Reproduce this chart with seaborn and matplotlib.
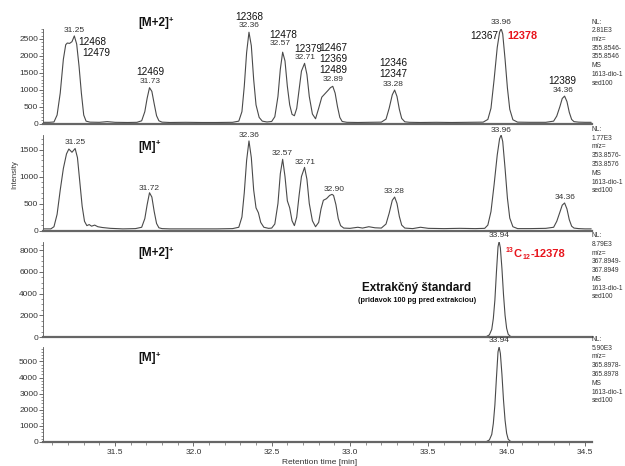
import matplotlib
matplotlib.use("Agg")
import matplotlib.pyplot as plt
from matplotlib.ticker import MultipleLocator, FormatStrFormatter
import seaborn as sns
import pandas as pd

# ---------------- data ----------------
# Panel 1: native [M+2]+ trace
rt_p1 = [31.04, 31.08, 31.11, 31.13, 31.15, 31.17, 31.185, 31.195, 31.21, 31.225, 31.24, 31.255,
         31.27, 31.285, 31.30, 31.315, 31.34, 31.40, 31.45, 31.50, 31.58, 31.64, 31.67, 31.69,
         31.705, 31.72, 31.735, 31.75, 31.765, 31.78, 31.80, 31.85, 31.95, 32.05, 32.15, 32.25,
         32.29, 32.31, 32.325, 32.34, 32.355, 32.37, 32.385, 32.40, 32.42, 32.44, 32.47, 32.50,
         32.52, 32.54, 32.555, 32.57, 32.585, 32.60, 32.615, 32.63, 32.645, 32.66, 32.675, 32.69,
         32.71, 32.725, 32.74, 32.76, 32.78, 32.80, 32.82, 32.84, 32.86, 32.875, 32.89, 32.905,
         32.92, 32.935, 32.95, 32.98, 33.05, 33.12, 33.20, 33.23, 33.25, 33.27, 33.285, 33.30,
         33.315, 33.33, 33.35, 33.38, 33.45, 33.55, 33.65, 33.75, 33.85, 33.88, 33.90, 33.92,
         33.94, 33.955, 33.965, 33.975, 33.99, 34.005, 34.02, 34.04, 34.07, 34.15, 34.25, 34.30,
         34.32, 34.34, 34.355, 34.37, 34.385, 34.40, 34.415, 34.43, 34.46, 34.50, 34.54]
int_p1 = [35, 35, 45, 250, 900, 1900, 2330, 2380, 2370, 2420, 2590, 2350,
          1700, 900, 250, 70, 40, 35, 55, 35, 30, 35, 80, 350,
          750, 1060, 950, 580, 230, 80, 40, 30, 35, 30, 30, 35,
          70, 350, 1100, 2100, 2700, 2300, 1300, 550, 180, 70, 45, 60,
          200, 800, 1600, 2110, 1850, 1100, 550, 270, 230, 450, 1000, 1550,
          1780, 1450, 800, 280, 140, 450, 780, 880, 980, 1060, 1100, 900,
          500, 180, 60, 35, 30, 35, 40, 130, 450, 850, 990, 800,
          420, 150, 50, 35, 30, 35, 30, 35, 40, 120, 450, 1300,
          2250, 2700, 2800, 2650, 1900, 1050, 420, 110, 40, 35, 35, 70,
          220, 500, 740, 810, 650, 330, 120, 55, 40, 35, 35]

# Panel 2: native [M]+ trace
rt_p2 = [31.04, 31.09, 31.11, 31.13, 31.15, 31.17, 31.19, 31.205, 31.225, 31.245, 31.26, 31.275,
         31.29, 31.305, 31.32, 31.335, 31.35, 31.37, 31.39, 31.42, 31.47, 31.55, 31.63, 31.67,
         31.69, 31.705, 31.72, 31.735, 31.75, 31.765, 31.78, 31.80, 31.85, 31.95, 32.05, 32.15,
         32.25, 32.29, 32.31, 32.325, 32.34, 32.355, 32.37, 32.385, 32.40, 32.415, 32.43, 32.45,
         32.48, 32.50, 32.52, 32.54, 32.555, 32.57, 32.585, 32.60, 32.615, 32.63, 32.645, 32.66,
         32.675, 32.69, 32.71, 32.725, 32.74, 32.76, 32.78, 32.80, 32.815, 32.83, 32.85, 32.87,
         32.885, 32.895, 32.91, 32.925, 32.94, 32.96, 33.00, 33.05, 33.08, 33.12, 33.16, 33.20,
         33.23, 33.25, 33.27, 33.285, 33.30, 33.315, 33.33, 33.35, 33.40, 33.45, 33.50, 33.60,
         33.70, 33.80, 33.86, 33.88, 33.90, 33.92, 33.94, 33.955, 33.965, 33.975, 33.99, 34.005,
         34.02, 34.04, 34.07, 34.15, 34.25, 34.30, 34.32, 34.34, 34.355, 34.37, 34.385, 34.40,
         34.415, 34.43, 34.46, 34.50, 34.54]
int_p2 = [30, 30, 70, 300, 750, 1150, 1420, 1510, 1450, 1520, 1350, 900,
          450, 170, 90, 110, 80, 100, 70, 55, 40, 30, 35, 60,
          220, 480, 700, 620, 350, 130, 50, 35, 30, 30, 30, 30,
          35, 60, 250, 700, 1300, 1660, 1350, 750, 420, 330, 150, 60,
          40, 45, 120, 500, 1050, 1320, 1000, 550, 420, 180, 90, 250,
          650, 1000, 1170, 950, 500, 180, 70, 150, 400, 560, 590, 650,
          670, 650, 480, 220, 90, 45, 40, 60, 45, 70, 50, 45,
          120, 320, 560, 620, 500, 260, 100, 45, 35, 60, 40, 35,
          40, 35, 40, 100, 350, 850, 1400, 1700, 1770, 1650, 1150, 600,
          230, 70, 35, 35, 40, 60, 170, 340, 470, 510, 400, 200,
          80, 45, 35, 30, 30]

# Panel 3: 13C12 labelled standard [M+2]+
rt_p3 = [31.04, 33.84, 33.87, 33.89, 33.905, 33.915, 33.925, 33.935, 33.945, 33.952, 33.96,
         33.97, 33.98, 33.99, 34.00, 34.01, 34.025, 34.05, 34.54]
int_p3 = [0, 0, 30, 200, 700, 1700, 3400, 6000, 8300, 8790, 8200,
          6300, 3900, 2000, 800, 250, 50, 0, 0]

# Panel 4: 13C12 labelled standard [M]+
rt_p4 = [31.04, 33.84, 33.87, 33.89, 33.905, 33.915, 33.925, 33.935, 33.945, 33.952, 33.96,
         33.97, 33.98, 33.99, 34.00, 34.01, 34.025, 34.05, 34.54]
int_p4 = [0, 0, 20, 130, 470, 1150, 2300, 4000, 5600, 5900, 5500,
          4200, 2600, 1350, 540, 170, 35, 0, 0]

panel_ymax = [2810, 1770, 8790, 5900]
panel_ions = ["[M+2]", "[M]", "[M+2]", "[M]"]
nl_labels = ["2.81E3", "1.77E3", "8.79E3", "5.90E3"]
mz_ranges = [("355.8546-", "355.8546"), ("353.8576-", "353.8576"),
             ("367.8949-", "367.8949"), ("365.8978-", "365.8978")]

# peak retention-time labels (text, x, y)
rt_labels_p1 = [("31.25", 31.24, 2745), ("31.73", 31.723, 1236), ("32.36", 32.355, 2884),
                ("32.57", 32.552, 2372), ("32.71", 32.712, 1946), ("32.89", 32.891, 1287),
                ("33.28", 33.276, 1139), ("33.96", 33.967, 2982), ("34.36", 34.358, 970)]
cong_labels_p1 = [("12468", 31.263, 2402, "left"), ("12479", 31.289, 2077, "left"),
                  ("12469", 31.723, 1532, "center"), ("12368", 32.355, 3159, "center"),
                  ("12478", 32.572, 2618, "center"), ("12379", 32.731, 2195, "center"),
                  ("12467", 32.891, 2242, "center"), ("12369", 32.891, 1908, "center"),
                  ("12489", 32.891, 1583, "center"), ("12346", 33.276, 1781, "center"),
                  ("12347", 33.276, 1464, "center"), ("12367", 33.944, 2597, "right"),
                  ("12389", 34.358, 1266, "center")]
rt_labels_p2 = [("31.25", 31.244, 1634), ("31.72", 31.718, 782), ("32.36", 32.357, 1770),
                ("32.57", 32.57, 1430), ("32.71", 32.712, 1256), ("32.90", 32.899, 769),
                ("33.28", 33.282, 732), ("33.96", 33.967, 1862), ("34.36", 34.371, 615)]

# ---------------- figure ----------------
sns.set_theme(style="ticks")
plt.rcParams["font.family"] = ["Liberation Sans", "DejaVu Sans"]

W, H = 625, 466
fig = plt.figure(figsize=(W / 100, H / 100), dpi=100)

LEFT_PX, RIGHT_PX = 43, 592
panel_px = [(28.5, 123.5), (135, 230.5), (241.5, 337), (347, 442)]
XMIN, XMAX = 31.04, 34.545

traces = [(rt_p1, int_p1), (rt_p2, int_p2), (rt_p3, int_p3), (rt_p4, int_p4)]
major_steps = [500, 500, 2000, 1000]
minor_steps = [100, 100, 500, 200]
TXT = "#333333"
RED = "#e8141c"

axes = []
for i, ((top, bot), (rt, inten)) in enumerate(zip(panel_px, traces)):
    ax = fig.add_axes([LEFT_PX / W, 1 - bot / H, (RIGHT_PX - LEFT_PX) / W, (bot - top) / H])
    ax.set_facecolor("white")
    df = pd.DataFrame({"rt": rt, "intensity": inten})
    sns.lineplot(data=df, x="rt", y="intensity", ax=ax, color="#4a4a4a", linewidth=0.8,
                 sort=False, estimator=None)
    ax.set_xlim(XMIN, XMAX)
    ax.set_ylim(0, panel_ymax[i])
    sns.despine(ax=ax)
    ax.spines["bottom"].set_linewidth(1.6)
    ax.spines["bottom"].set_color("#666666")
    ax.spines["left"].set_linewidth(0.6)
    ax.spines["left"].set_color("#555555")
    ax.set_xlabel("")
    ax.set_ylabel("")
    ax.yaxis.set_major_locator(MultipleLocator(major_steps[i]))
    ax.yaxis.set_minor_locator(MultipleLocator(minor_steps[i]))
    ax.yaxis.set_major_formatter(FormatStrFormatter("%d"))
    ax.tick_params(axis="y", which="major", length=3, width=0.6, pad=0.5,
                   labelsize=6, labelcolor=TXT, color="#555555")
    ax.tick_params(axis="y", which="minor", length=1.8, width=0.5, color="#666666")
    if i < 3:
        ax.tick_params(axis="x", which="both", bottom=False, labelbottom=False)
    else:
        ax.xaxis.set_major_locator(MultipleLocator(0.5))
        ax.xaxis.set_minor_locator(MultipleLocator(0.1))
        ax.xaxis.set_major_formatter(FormatStrFormatter("%.1f"))
        ax.tick_params(axis="x", which="major", length=3, width=0.6, pad=2,
                       labelsize=6, labelcolor=TXT, color="#555555")
        ax.tick_params(axis="x", which="minor", length=1.8, width=0.5, color="#666666")
    ax.grid(False)
    axes.append(ax)

    # ion label with superscript +
    ion_y = {0: 2964, 1: 1553, 2: 7704, 3: 5198}[i]
    t = ax.text(31.646, ion_y, panel_ions[i], fontsize=8.5, fontweight="bold",
                ha="left", va="center", color="#111111", clip_on=False)
    ax.annotate("+", xy=(1, 1), xycoords=t, xytext=(0.3, 0.5), textcoords="offset points",
                fontsize=5.5, fontweight="bold", ha="left", va="top", color="#111111")

    # right-side info block
    info = "NL:\n{}\nm/z=\n{}\n{}\nMS\n1613-dio-1\nsed100".format(
        nl_labels[i], mz_ranges[i][0], mz_ranges[i][1])
    info_top = [18.5, 126, 232, 336][i]
    fig.text(591.5 / W, 1 - info_top / H, info, fontsize=4.8, color=TXT,
             ha="left", va="top", linespacing=1.35)

ax1, ax2, ax3, ax4 = axes

# panel 1 labels
for txt, x, y in rt_labels_p1:
    ax1.text(x, y, txt, fontsize=6, color=TXT, ha="center", va="center", clip_on=False)
for txt, x, y, ha in cong_labels_p1:
    ax1.text(x, y, txt, fontsize=7.2, color="#111111", ha=ha, va="center", clip_on=False)
ax1.text(34.003, 2597, "12378", fontsize=7.8, color=RED, fontweight="bold",
         ha="left", va="center", clip_on=False)

# panel 2 labels
for txt, x, y in rt_labels_p2:
    ax2.text(x, y, txt, fontsize=6, color=TXT, ha="center", va="center", clip_on=False)

# panel 3 labels
ax3.text(33.952, 9388, "33.94", fontsize=6, color=TXT, ha="center", va="center", clip_on=False)
ax3.text(33.427, 4510, "Extrakčný štandard", fontsize=8.5, fontweight="bold",
         color="#111111", ha="center", va="center")
ax3.text(33.43, 3341, "(pridavok 100 pg pred extrakciou)", fontsize=5.3, fontweight="bold",
         color="#111111", ha="center", va="center")
t13 = ax3.text(33.995, 7950, "13", fontsize=5, fontweight="bold", color=RED,
               ha="left", va="center")
tC = ax3.annotate("C", xy=(1, 0), xycoords=t13, xytext=(0.2, -3.2), textcoords="offset points",
                  fontsize=8, fontweight="bold", color=RED, ha="left", va="bottom")
t12 = ax3.annotate("12", xy=(1, 0), xycoords=tC, xytext=(0.2, -1.5), textcoords="offset points",
                   fontsize=5, fontweight="bold", color=RED, ha="left", va="bottom")
ax3.annotate("-12378", xy=(1, 0), xycoords=(t12, tC), xytext=(0.2, 0), textcoords="offset points",
             fontsize=8, fontweight="bold", color=RED, ha="left", va="bottom")

# panel 4 labels
ax4.text(33.952, 6303, "33.94", fontsize=6, color=TXT, ha="center", va="center", clip_on=False)

# axis titles
fig.text(15 / W, 1 - 175 / H, "Intensity", fontsize=5.5, color=TXT, rotation=90,
         ha="center", va="center")
fig.text(320 / W, 1 - 459 / H, "Retention time [min]", fontsize=6, color=TXT,
         ha="center", va="top")

fig.savefig("out.png", dpi=100, facecolor="white")
